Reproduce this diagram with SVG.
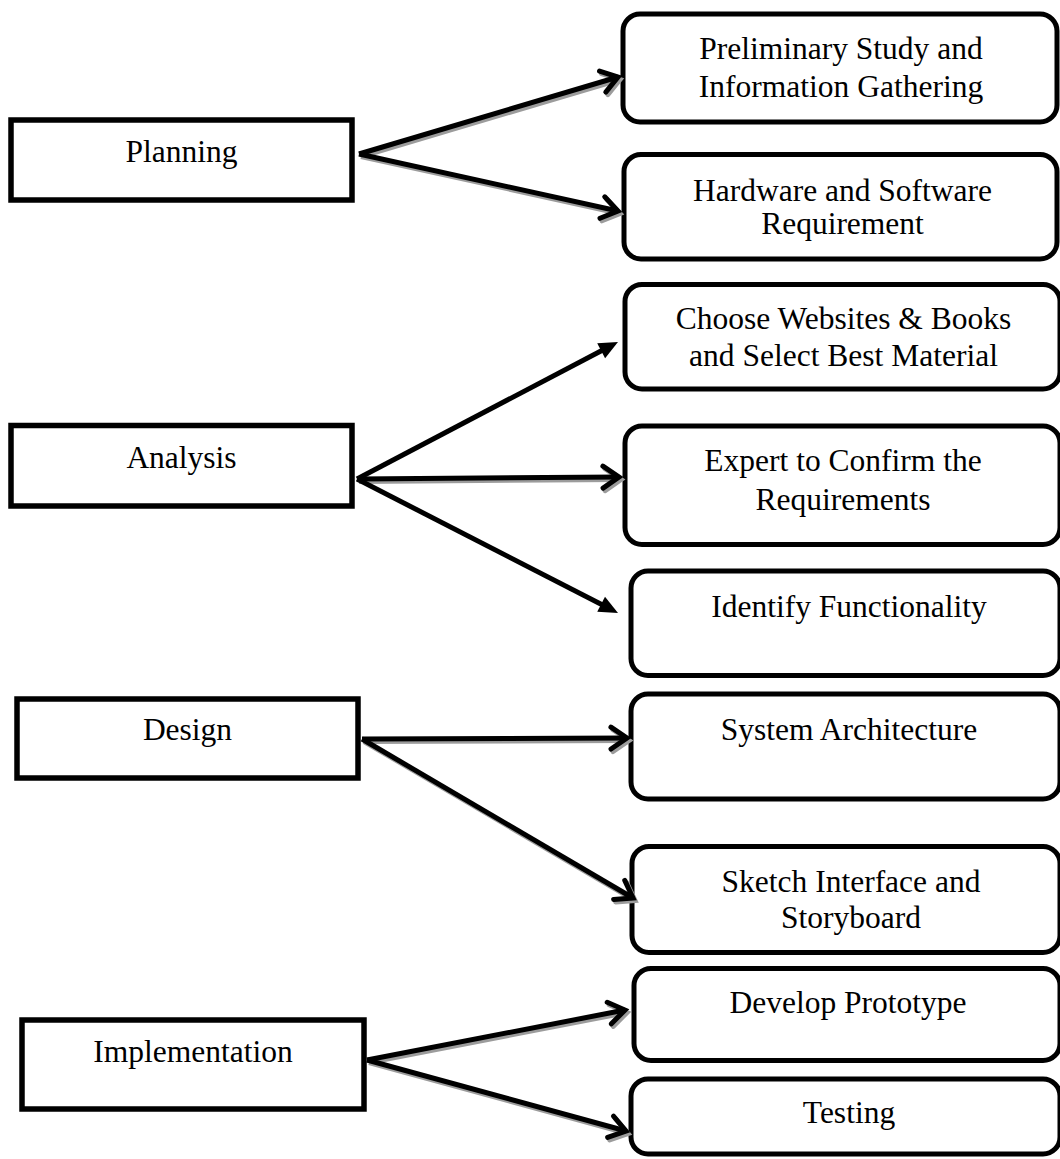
<svg xmlns="http://www.w3.org/2000/svg" width="1060" height="1159" viewBox="0 0 1060 1159">
  <defs>
    <style>
      .stage rect { fill: #fff; stroke: #000; stroke-width: 5.5; }
      .task rect { fill: #fff; stroke: #000; stroke-width: 5; }
      text { font-family: "Liberation Serif", "Times New Roman", serif; font-size: 31.5px; fill: #000; text-anchor: middle; }
      .wire { fill: none; stroke: #000; stroke-width: 5; }
      .open { marker-end: url(#chev); }
      .solid { marker-end: url(#tri); }
      .shadow .wire { stroke: #9c9c9c; marker-end: url(#chevGray); }
    </style>
    <!-- open chevron head, tip at the end point -->
    <marker id="chev" markerUnits="userSpaceOnUse" orient="auto" overflow="visible" refX="0" refY="0" markerWidth="1" markerHeight="1">
      <path d="M-16,-11 L0,0 L-16,11" fill="none" stroke="#000" stroke-width="5" stroke-linecap="round"/>
    </marker>
    <marker id="chevGray" markerUnits="userSpaceOnUse" orient="auto" overflow="visible" refX="0" refY="0" markerWidth="1" markerHeight="1">
      <path d="M-16,-11 L0,0 L-16,11" fill="none" stroke="#9c9c9c" stroke-width="5" stroke-linecap="round"/>
    </marker>
    <!-- filled triangle head, tip 8px beyond the end point -->
    <marker id="tri" markerUnits="userSpaceOnUse" orient="auto" overflow="visible" refX="0" refY="0" markerWidth="1" markerHeight="1">
      <path d="M8,0 L-11,-8.5 L-11,8.5 Z" fill="#000"/>
    </marker>
  </defs>

  <rect width="1060" height="1159" fill="#fff"/>

  <!-- phase boxes -->
  <g id="planning" class="stage">
    <rect x="11" y="120" width="341" height="80"/>
    <text x="181.5" y="162">Planning</text>
  </g>
  <g id="analysis" class="stage">
    <rect x="11" y="425.5" width="341" height="80.5"/>
    <text x="181.5" y="468">Analysis</text>
  </g>
  <g id="design" class="stage">
    <rect x="17" y="699" width="341" height="79"/>
    <text x="187.5" y="740">Design</text>
  </g>
  <g id="implementation" class="stage">
    <rect x="22" y="1020" width="342" height="89"/>
    <text x="193" y="1062">Implementation</text>
  </g>

  <!-- activity boxes -->
  <g id="preliminary-study" class="task">
    <rect x="623" y="14" width="434" height="108" rx="17"/>
    <text x="841" y="59">Preliminary Study and</text>
    <text x="841" y="97">Information Gathering</text>
  </g>
  <g id="hw-sw-requirement" class="task">
    <rect x="624" y="154.5" width="433" height="104.5" rx="17"/>
    <text x="842.5" y="201">Hardware and Software</text>
    <text x="842.5" y="234">Requirement</text>
  </g>
  <g id="choose-material" class="task">
    <rect x="625" y="284.5" width="435" height="104.5" rx="17"/>
    <text x="843.5" y="329">Choose Websites &amp; Books</text>
    <text x="843.5" y="366">and Select Best Material</text>
  </g>
  <g id="expert-confirm" class="task">
    <rect x="625" y="426" width="435" height="118.5" rx="17"/>
    <text x="843" y="471">Expert to Confirm the</text>
    <text x="843" y="510">Requirements</text>
  </g>
  <g id="identify-functionality" class="task">
    <rect x="631" y="571" width="429" height="104.5" rx="17"/>
    <text x="849" y="617">Identify Functionality</text>
  </g>
  <g id="system-architecture" class="task">
    <rect x="631" y="694" width="429" height="105" rx="17"/>
    <text x="849" y="740">System Architecture</text>
  </g>
  <g id="sketch-interface" class="task">
    <rect x="632" y="846.5" width="428" height="106" rx="17"/>
    <text x="851" y="892">Sketch Interface and</text>
    <text x="851" y="928">Storyboard</text>
  </g>
  <g id="develop-prototype" class="task">
    <rect x="634" y="968.5" width="426" height="92" rx="17"/>
    <text x="848" y="1013">Develop Prototype</text>
  </g>
  <g id="testing" class="task">
    <rect x="631" y="1079" width="429" height="75" rx="17"/>
    <text x="849" y="1123">Testing</text>
  </g>

  <!-- connectors -->
  <g id="connectors">
    <g class="shadow" transform="translate(2,2.5)">
      <path class="wire" d="M359,154 L618,77"/>
      <path class="wire" d="M359,154 L618,211"/>
      <path class="wire" d="M357,479 L619,477"/>
      <path class="wire" d="M362,739 L627,738"/>
      <path class="wire" d="M362,739 L633,898"/>
      <path class="wire" d="M367,1060 L625,1010"/>
      <path class="wire" d="M367,1060 L626,1131"/>
    </g>
    <path class="wire open" d="M359,154 L618,77"/>
    <path class="wire open" d="M359,154 L618,211"/>
    <path class="wire solid" d="M357,479 L610.9,345.7"/>
    <path class="wire open" d="M357,479 L619,477"/>
    <path class="wire solid" d="M357,479 L610.9,609.3"/>
    <path class="wire open" d="M362,739 L627,738"/>
    <path class="wire open" d="M362,739 L633,898"/>
    <path class="wire open" d="M367,1060 L625,1010"/>
    <path class="wire open" d="M367,1060 L626,1131"/>
  </g>
</svg>
